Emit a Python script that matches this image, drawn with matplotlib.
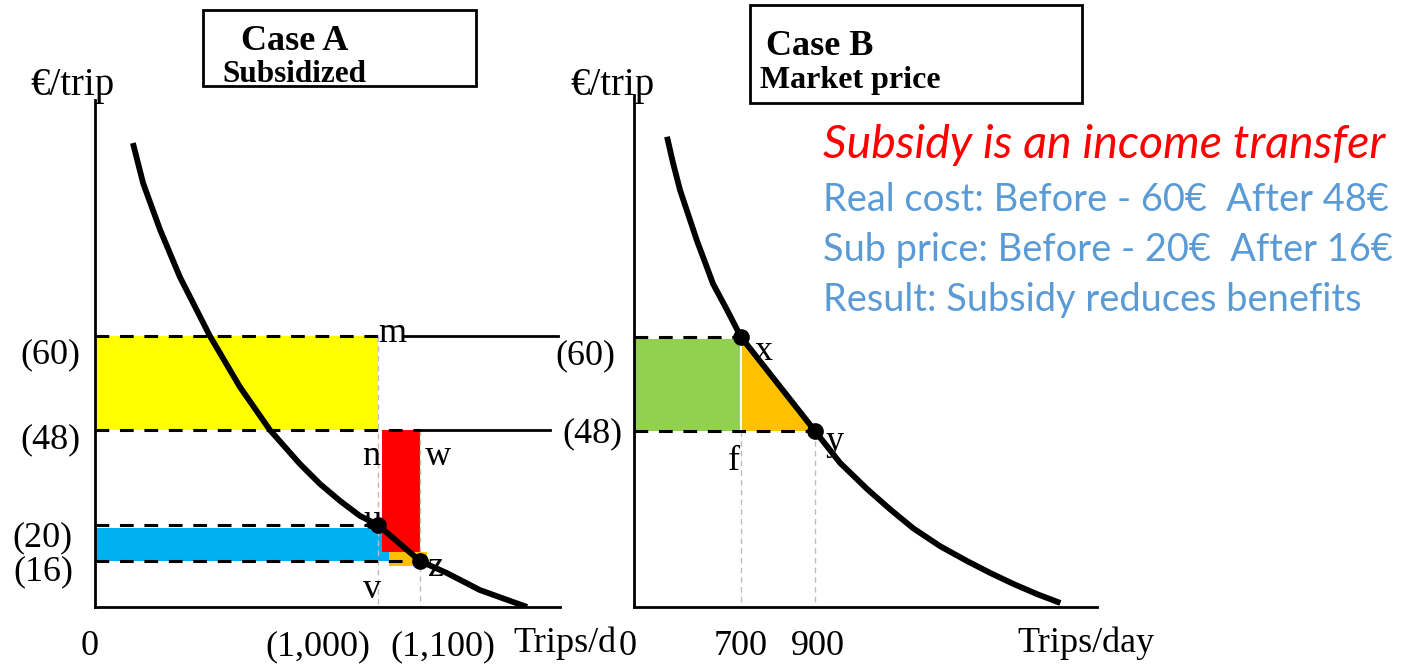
import numpy as np
import matplotlib
matplotlib.use("Agg")
import matplotlib.pyplot as plt
from matplotlib.patches import Rectangle, Polygon

W, H = 1401, 665
plt.rcParams['font.family'] = ['Liberation Serif', 'DejaVu Serif']

# ---------------- data ----------------
# Case A: subsidized price
a_q_knots = [0, 1000, 1100, 1500]
a_p_knots = [0, 16, 20, 48, 60, 100]
a_demand_q = [134, 170, 230, 300, 406, 512, 618, 724, 795, 866, 936, 1000, 1100, 1177, 1271, 1406]
a_demand_p = [92.7, 85.9, 78, 70, 60, 53.5, 48, 38.0, 32.1, 27.1, 22.7, 20, 16, 11.8, 5.9, 0]
a_cost = [60, 48]          # real cost before / after
a_price = [20, 16]         # subsidized price before / after
a_trips = [1000, 1100]     # trips before / after
a_levels = [60, 48, 20, 16]
a_level_labels = ['(60)', '(48)', '(20)', '(16)']
a_q_marks = [0, 1000, 1100]
a_q_labels = ['0', '(1,000)', '(1,100)']
a_red_q, a_red_p = [1010, 1100], [17, 48]
a_orange_q, a_orange_p = [1025, 1120], [14.3, 17]
a_cyan_q = [0, 1030]

# Case B: market price
b_q_knots = [0, 700, 900, 1800]
b_p_knots = [0, 48, 60, 100]
b_demand_q = [216, 255, 301, 412, 464, 517, 608, 700, 900, 980, 1066, 1139, 1213, 1299,
              1386, 1459, 1533, 1609, 1683]
b_demand_p = [93.1, 88.8, 84.3, 75.9, 72.4, 68.8, 64.5, 60, 48, 39.3, 32.2, 26.7, 21.5, 16.6,
              12.5, 9.3, 6.3, 3.5, 1.1]
b_price = [60, 48]
b_trips = [700, 900]
b_levels = [60, 48]
b_level_labels = ['(60)', '(48)']
b_q_marks = [0, 700, 900]
b_q_labels = ['0', '700', '900']

notes = ["Subsidy is an income transfer",
         "Real cost: Before - 60€  After 48€",
         "Sub price: Before - 20€  After 16€",
         "Result: Subsidy reduces benefits"]

# schematic screen lengths (pixels) of the knots
a_x_px = [0, 283, 325, 465]
a_y_px = [0, 46, 82, 177, 271, 507]
b_x_px = [0, 107, 181, 463]
b_y_px = [0, 176, 270, 512]

FS = 26
DASH = (0, (4.5, 3.5))
GRAY = '#BDBDBD'


def schematic(ax, qk, qpx, pk, ppx):
    ax.set_xscale('function', functions=(lambda v: np.interp(v, qk, qpx),
                                         lambda v: np.interp(v, qpx, qk)))
    ax.set_yscale('function', functions=(lambda v: np.interp(v, pk, ppx),
                                         lambda v: np.interp(v, ppx, pk)))
    ax.set_xlim(qk[0], qk[-1])
    ax.set_ylim(pk[0], pk[-1])
    ax.set_xticks([])
    ax.set_yticks([])
    ax.patch.set_alpha(0)
    for s in ['top', 'right']:
        ax.spines[s].set_visible(False)
    for s in ['left', 'bottom']:
        ax.spines[s].set_linewidth(2)


def lab(ax, txt, xy, off, coords='data', ha='left', size=FS):
    ax.annotate(txt, xy=xy, xycoords=coords, xytext=off, textcoords='offset pixels',
                ha=ha, va='baseline', fontsize=size, annotation_clip=False, zorder=4)


fig = plt.figure(figsize=(W / 100, H / 100), dpi=100)

# ---------------- Case A ----------------
axA = fig.add_axes([95 / W, (H - 607) / H, 465 / W, 507 / H])
schematic(axA, a_q_knots, a_x_px, a_p_knots, a_y_px)

axA.fill_between([0, a_trips[0]], a_cost[1], a_cost[0], color='#FFFF00', lw=0, zorder=1)
axA.fill_between(a_cyan_q, a_price[1], 19.7, color='#00B0F0', lw=0, zorder=1)
axA.fill_between(a_red_q, a_red_p[0], a_red_p[1], color='#FF0000', lw=0, zorder=1)
axA.fill_between(a_orange_q, a_orange_p[0], a_orange_p[1], color='#FFC000', lw=0, zorder=1)

axA.plot([a_trips[0]] * 2, [a_cost[0], 0], color=GRAY, lw=1, ls=(0, (4, 3)), zorder=2)
axA.plot([a_trips[1]] * 2, [a_cost[1], 0], color=GRAY, lw=1, ls=(0, (4, 3)), zorder=2)

axA.plot([0, a_trips[0]], [a_cost[0]] * 2, color='k', lw=2.2, ls=DASH, zorder=3)
axA.plot([0, a_trips[1]], [a_cost[1]] * 2, color='k', lw=2.2, ls=DASH, zorder=3)
axA.plot([0, a_trips[0]], [a_price[0]] * 2, color='k', lw=2.2, ls=DASH, zorder=3)
axA.plot([0, 1064], [a_price[1]] * 2, color='k', lw=2.2, ls=DASH, zorder=3)
axA.plot([1060, 1494], [a_cost[0]] * 2, color='k', lw=2, clip_on=False, zorder=3)
axA.plot([a_trips[1], 1471], [a_cost[1]] * 2, color='k', lw=2, clip_on=False, zorder=3)

axA.plot(a_demand_q, a_demand_p, color='k', lw=4.2, solid_capstyle='butt',
         solid_joinstyle='round', zorder=5)
axA.plot(a_trips, a_price, 'o', color='k', ms=11, zorder=6)

for lbl, p, dx, dy in zip(a_level_labels, a_levels, [-15, -15, -22, -22], [-27, -18, -21, -19]):
    lab(axA, lbl, (0, p), (dx, dy), coords=('axes fraction', 'data'), ha='right')
for lbl, q, dx in zip(a_q_labels, a_q_marks, [-5, -60, 23]):
    lab(axA, lbl, (q, 0), (dx, -48), coords=('data', 'axes fraction'), ha='center')
lab(axA, 'Trips/d', (1, 0), (-47, -45), coords='axes fraction')
lab(axA, '€/trip', (0, 1), (-65, 5), coords='axes fraction', size=28)

for txt, xy, off in [('m', (a_trips[0], a_cost[0]), (0, -6)),
                     ('n', (a_trips[0], a_cost[1]), (-16, -35)),
                     ('w', (a_trips[1], a_cost[1]), (5, -35)),
                     ('u', (a_trips[0], a_price[0]), (-15, -4)),
                     ('v', (a_trips[0], 0), (-15, 9)),
                     ('z', (a_trips[1], a_price[1]), (8, -15))]:
    lab(axA, txt, xy, off)

# ---------------- Case B ----------------
axB = fig.add_axes([634 / W, (H - 607) / H, 463 / W, 512 / H])
schematic(axB, b_q_knots, b_x_px, b_p_knots, b_y_px)

axB.fill_between([0, b_trips[0]], b_price[1], 59.7, color='#92D050', lw=0, zorder=1)
axB.add_patch(Polygon([(b_trips[0], b_price[0]), (b_trips[0], b_price[1]), (b_trips[1], b_price[1])],
                      closed=True, facecolor='#FFC000', edgecolor='none', zorder=1))
axB.plot([b_trips[0]] * 2, [b_price[0], b_price[1]], color='white', lw=1.5, zorder=2)

axB.plot([b_trips[0]] * 2, [b_price[1], 0], color=GRAY, lw=1, ls=(0, (4, 3)), zorder=2)
axB.plot([b_trips[1]] * 2, [b_price[1], 0], color=GRAY, lw=1, ls=(0, (4, 3)), zorder=2)
axB.plot([0, b_trips[0]], [b_price[0]] * 2, color='k', lw=2.2, ls=DASH, zorder=3)
axB.plot([0, b_trips[1]], [b_price[1]] * 2, color='k', lw=2.2, ls=DASH, zorder=3)

axB.plot(b_demand_q, b_demand_p, color='k', lw=4.2, solid_capstyle='butt',
         solid_joinstyle='round', zorder=5)
axB.plot(b_trips, b_price, 'o', color='k', ms=11, zorder=6)

for lbl, p, dx, dy in zip(b_level_labels, b_levels, [-19, -12], [-27, -11]):
    lab(axB, lbl, (0, p), (dx, dy), coords=('axes fraction', 'data'), ha='right')
for lbl, q, dx in zip(b_q_labels, b_q_marks, [-6, 0, 3]):
    lab(axB, lbl, (q, 0), (dx, -48), coords=('data', 'axes fraction'), ha='center')
lab(axB, 'Trips/day', (1, 0), (-80, -45), coords='axes fraction')
lab(axB, '€/trip', (0, 1), (-64, 0), coords='axes fraction', size=28)

for txt, xy, off in [('x', (b_trips[0], b_price[0]), (14, -23)),
                     ('f', (b_trips[0], b_price[1]), (-13, -39)),
                     ('y', (b_trips[1], b_price[1]), (10, -19))]:
    lab(axB, txt, xy, off)

# ---------------- title boxes ----------------
def fx(x):
    return x / W


def fy(y):
    return 1 - y / H


for x0, y0, x1, y1 in [(203, 10, 476, 86), (750, 5, 1082, 103)]:
    fig.add_artist(Rectangle((fx(x0), fy(y1)), fx(x1) - fx(x0), fy(y0) - fy(y1),
                             transform=fig.transFigure, fill=False, lw=2, edgecolor='k'))

fig.text(fx(241), fy(50), 'Case A', fontsize=26, fontweight='bold', va='baseline')
fig.text(fx(222), fy(82), 'Subsidized', fontsize=22.5, fontweight='bold', va='baseline')
fig.text(fx(766), fy(55), 'Case B', fontsize=26, fontweight='bold', va='baseline')
fig.text(fx(760), fy(88), 'Market price', fontsize=23, fontweight='bold', va='baseline')

for i, (txt, yb) in enumerate(zip(notes, [158, 211, 261, 311])):
    fig.text(fx(823), fy(yb), txt, fontsize=33.5 if i == 0 else 27.4,
             family=['Lato', 'DejaVu Sans'],
             color='#FF0000' if i == 0 else '#5B9BD5', style='italic' if i == 0 else 'normal',
             va='baseline')

fig.savefig('out.png', dpi=100)
